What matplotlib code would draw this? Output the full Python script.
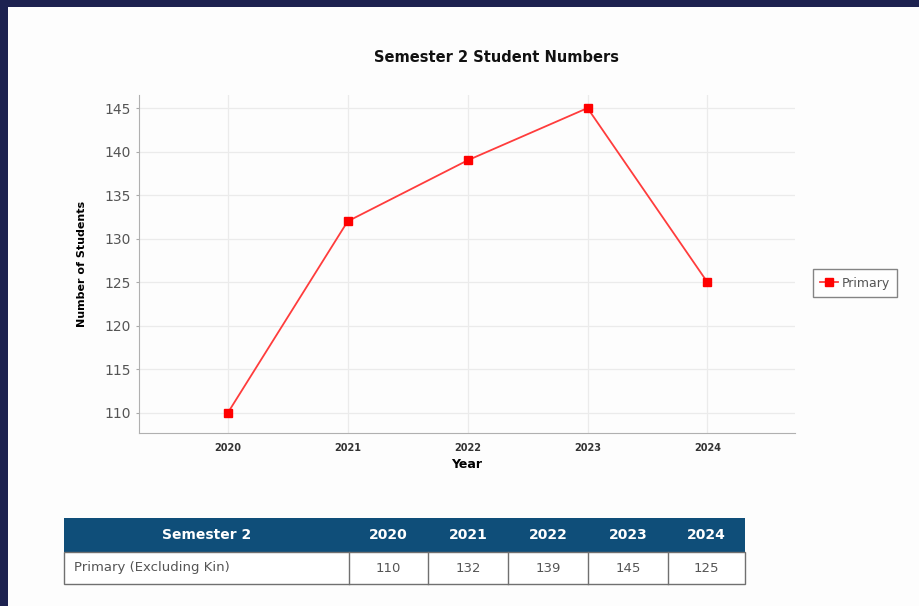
import matplotlib.pyplot as plt
from matplotlib.patches import Rectangle
from matplotlib.lines import Line2D

years = [2020, 2021, 2022, 2023, 2024]
primary = [110, 132, 139, 145, 125]
yticks = [110, 115, 120, 125, 130, 135, 140, 145]
table_head = "Semester 2"
row_name = "Primary (Excluding Kin)"

W, H = 920, 606
fig = plt.figure(figsize=(W / 100, H / 100), dpi=100)
fig.patch.set_facecolor("#1d2250")

# full-figure overlay in pixel units for the white panel and the table
bg = fig.add_axes([0, 0, 1, 1])
bg.set_xlim(0, W)
bg.set_ylim(H, 0)
bg.axis("off")
bg.add_patch(Rectangle((8, 7), W - 8, H - 7, facecolor="#fdfdfd", edgecolor="none"))

# chart
ax = fig.add_axes([139 / W, 1 - 433 / H, 656 / W, 338 / H])
ax.set_facecolor("#fdfdfd")
ax.plot(years, primary, color="#ff3c3c", lw=1.3, marker="s", ms=5.5,
        mfc="#ff0000", mec="#ff0000", label="Primary")
ax.set_xlim(2019.26, 2024.73)
ax.set_ylim(107.7, 146.5)
ax.set_xticks(years)
ax.set_yticks(yticks)
ax.grid(True, color="#ebebeb", lw=0.9)
ax.set_axisbelow(True)
for s in ["top", "right"]:
    ax.spines[s].set_visible(False)
for s in ["left", "bottom"]:
    ax.spines[s].set_color("#b0b0b0")
ax.tick_params(axis="y", labelsize=10, colors="#aaaaaa", labelcolor="#555555", length=2, pad=4)
ax.tick_params(axis="x", labelsize=7, colors="#999999", labelcolor="#333333", length=0, pad=7)
for lab in ax.get_xticklabels():
    lab.set_fontweight("bold")
ax.set_xlabel("Year", fontsize=9, fontweight="bold", labelpad=4)
ax.set_ylabel("Number of Students", fontsize=8, fontweight="bold", labelpad=12)

fig.text(497 / W, 1 - 58 / H, "Semester 2 Student Numbers", ha="center", va="center",
         fontsize=10.5, fontweight="bold", color="#111111")

handle = Line2D([], [], color="#ff3c3c", lw=1.3, marker="s", ms=5.5, mfc="#ff0000", mec="#ff0000")
leg = fig.legend([handle], ["Primary"], loc="center", bbox_to_anchor=(855 / W, 1 - 283 / H),
                 fontsize=9, frameon=True, fancybox=False, handlelength=1.4,
                 handletextpad=0.3, borderpad=0.6)
leg.get_frame().set_edgecolor("#666666")
leg.get_frame().set_linewidth(1.0)
for t in leg.get_texts():
    t.set_color("#555555")

# summary table
cols = [64, 349, 428, 508, 588, 668, 745]
top, mid, bot = 518, 552, 584
bg.add_patch(Rectangle((cols[0], top), cols[-1] - cols[0], mid - top,
                       facecolor="#0f4e79", edgecolor="none"))
bg.add_patch(Rectangle((cols[0], mid), cols[-1] - cols[0], bot - mid,
                       facecolor="white", edgecolor="#707070", lw=1))
for x in cols[1:-1]:
    bg.plot([x, x], [mid, bot], color="#707070", lw=1)
bg.text((cols[0] + cols[1]) / 2, (top + mid) / 2, table_head, ha="center", va="center",
        color="white", fontsize=10, fontweight="bold")
bg.text(cols[0] + 10, (mid + bot) / 2, row_name, ha="left", va="center",
        color="#555555", fontsize=9.5)
for i, (yr, v) in enumerate(zip(years, primary)):
    cx = (cols[i + 1] + cols[i + 2]) / 2
    bg.text(cx, (top + mid) / 2, str(yr), ha="center", va="center",
            color="white", fontsize=10, fontweight="bold")
    bg.text(cx, (mid + bot) / 2, str(v), ha="center", va="center",
            color="#555555", fontsize=9.5)

fig.savefig("out.png", dpi=100, facecolor=fig.get_facecolor())
